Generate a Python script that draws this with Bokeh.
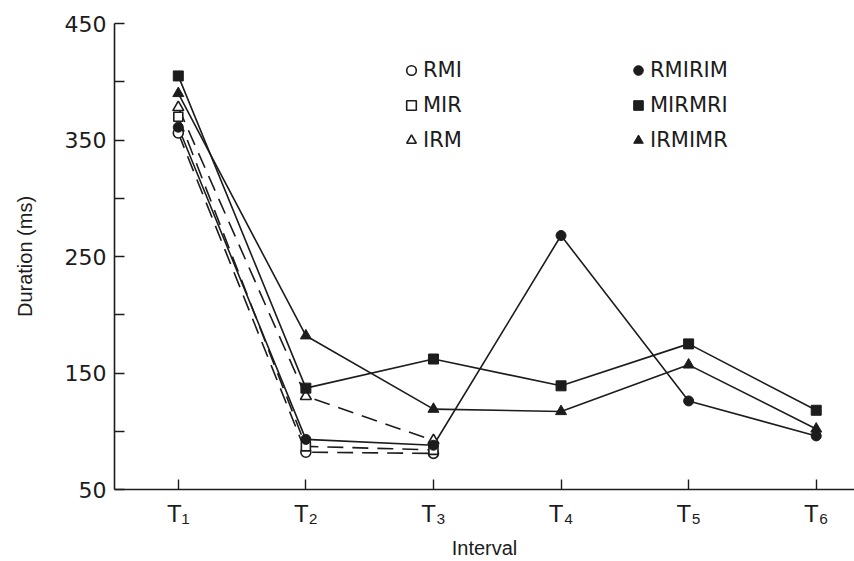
from bokeh.plotting import figure
from bokeh.models import Range1d, FixedTicker, Legend, LegendItem
from bokeh.embed import file_html
from bokeh.resources import INLINE

# ---- data ----
intervals = ["T\u2081", "T\u2082", "T\u2083", "T\u2084", "T\u2085", "T\u2086"]
x_short = [1, 2, 3]
x_long = [1, 2, 3, 4, 5, 6]

rmi = [356, 82, 81]
mir = [370, 87, 84]
irm = [378, 130, 92]
rmirim = [361, 93, 88, 268, 126, 96]
mirmri = [405, 137, 162, 139, 175, 118]
irmimr = [390, 182, 119, 117, 157, 102]

y_major = [50, 150, 250, 350, 450]
y_minor = [100, 200, 300, 400]

INK = "#1c1c1c"
FONT = "DejaVu Sans"

p = figure(width=854, height=561, output_backend="svg", toolbar_location=None,
           x_range=Range1d(0.5, 6.3), y_range=Range1d(50, 450),
           min_border_left=114, min_border_right=0, min_border_top=23,
           min_border_bottom=70)
p.outline_line_color = None
p.xgrid.visible = False
p.ygrid.visible = False
p.background_fill_color = "white"
p.border_fill_color = "white"

DASH = "16 9"
LW = 1.6

# dashed (three-interval) series
p.line(x_short, rmi, line_color=INK, line_width=LW, line_dash=DASH)
p.line(x_short, mir, line_color=INK, line_width=LW, line_dash=DASH)
p.line(x_short, irm, line_color=INK, line_width=LW, line_dash=DASH)
# solid (six-interval) series
p.line(x_long, rmirim, line_color=INK, line_width=LW)
p.line(x_long, mirmri, line_color=INK, line_width=LW)
p.line(x_long, irmimr, line_color=INK, line_width=LW)

r_rmi = p.scatter(x_short, rmi, marker="circle", size=10, line_color=INK,
                  line_width=1.6, fill_color="white")
r_mir = p.scatter(x_short, mir, marker="square", size=9, line_color=INK,
                  line_width=1.6, fill_color="white")
r_irm = p.scatter(x_short, irm, marker="triangle", size=11, line_color=INK,
                  line_width=1.6, fill_color="white")
r_rmirim = p.scatter(x_long, rmirim, marker="circle", size=10, line_color=INK,
                     fill_color=INK)
r_mirmri = p.scatter(x_long, mirmri, marker="square", size=10, line_color=INK,
                     fill_color=INK)
r_irmimr = p.scatter(x_long, irmimr, marker="triangle", size=11, line_color=INK,
                     fill_color=INK)


def make_legend(items, x, y):
    lg = Legend(items=items, location=(x, y), orientation="vertical",
                padding=0, margin=0, spacing=5,
                glyph_width=24, glyph_height=24, label_height=30,
                label_standoff=0,
                border_line_color=None, background_fill_alpha=0,
                label_text_font=FONT, label_text_font_size="21px",
                label_text_color=INK)
    return lg


leg1 = make_legend([LegendItem(label="RMI", renderers=[r_rmi]),
                    LegendItem(label="MIR", renderers=[r_mir]),
                    LegendItem(label="IRM", renderers=[r_irm])], 285, 334)
leg2 = make_legend([LegendItem(label="RMIRIM", renderers=[r_rmirim]),
                    LegendItem(label="MIRMRI", renderers=[r_mirmri]),
                    LegendItem(label="IRMIMR", renderers=[r_irmimr])], 512, 334)
p.add_layout(leg1, "center")
p.add_layout(leg2, "center")

# axes
xa = p.xaxis[0]
xa.ticker = FixedTicker(ticks=x_long)
xa.major_label_overrides = {i + 1: lab for i, lab in enumerate(intervals)}
xa.major_tick_in = 10
xa.major_tick_out = 0
xa.minor_tick_line_color = None
xa.axis_line_color = INK
xa.axis_line_width = 1.6
xa.major_tick_line_color = INK
xa.major_tick_line_width = 1.4
xa.major_label_text_font = "Liberation Sans"
xa.major_label_text_font_size = "24px"
xa.major_label_text_color = INK
xa.major_label_standoff = 10
xa.axis_label = "Interval"
xa.axis_label_text_font = "Liberation Sans"
xa.axis_label_text_font_style = "normal"
xa.axis_label_text_font_size = "20px"
xa.axis_label_text_color = INK
xa.axis_label_standoff = 7

ya = p.yaxis[0]
ya.ticker = FixedTicker(ticks=y_major, minor_ticks=y_minor)
ya.major_tick_in = 10
ya.major_tick_out = 0
ya.minor_tick_in = 10
ya.minor_tick_out = 0
ya.axis_line_color = INK
ya.axis_line_width = 1.6
ya.major_tick_line_color = INK
ya.major_tick_line_width = 1.4
ya.minor_tick_line_color = INK
ya.minor_tick_line_width = 1.4
ya.major_label_text_font = FONT
ya.major_label_text_font_size = "22px"
ya.major_label_text_color = INK
ya.major_label_standoff = 8
ya.axis_label = "Duration (ms)"
ya.axis_label_text_font = "Liberation Sans"
ya.axis_label_text_font_style = "normal"
ya.axis_label_text_font_size = "20px"
ya.axis_label_text_color = INK
ya.axis_label_standoff = 26

open("out.html", "w").write(file_html(p, INLINE))
